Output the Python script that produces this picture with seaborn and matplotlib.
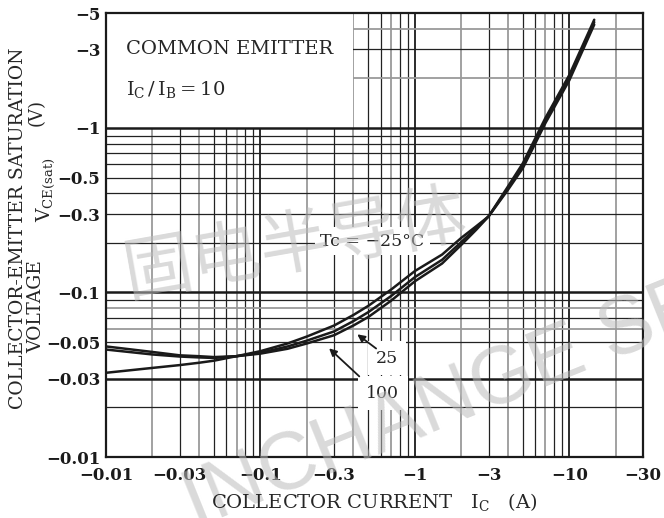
import numpy as np
import pandas as pd
import matplotlib
matplotlib.use('Agg')
import matplotlib.pyplot as plt
import seaborn as sns
from matplotlib.patches import Rectangle
from matplotlib.ticker import NullLocator

# collector current Ic (A), plotted as magnitude, labelled negative (PNP)
ic = [0.01, 0.02, 0.03, 0.04, 0.05, 0.07, 0.1, 0.15, 0.2, 0.3, 0.4, 0.5, 0.7, 1, 1.5, 2, 2.5, 3,
      4, 5, 6, 7, 10, 14.5]
# VCE(sat) (V) for each case temperature
vce_m25 = [0.0325, 0.0348, 0.0362, 0.0374, 0.0385, 0.041, 0.044, 0.049, 0.054, 0.063, 0.073, 0.083,
           0.104, 0.135, 0.17, 0.215, 0.253, 0.29, 0.42, 0.57, 0.8, 1.07, 1.95, 4.25]
vce_25 = [0.045, 0.042, 0.0408, 0.0403, 0.040, 0.041, 0.043, 0.047, 0.051, 0.058, 0.067, 0.076,
          0.095, 0.124, 0.158, 0.203, 0.247, 0.29, 0.43, 0.59, 0.83, 1.11, 2.02, 4.4]
vce_100 = [0.047, 0.0435, 0.0415, 0.041, 0.0405, 0.041, 0.0425, 0.0455, 0.049, 0.055, 0.063, 0.071,
           0.089, 0.117, 0.15, 0.195, 0.241, 0.29, 0.44, 0.61, 0.86, 1.15, 2.1, 4.55]
temps = ['-25', '25', '100']

xticks = [0.01, 0.03, 0.1, 0.3, 1, 3, 10, 30]
xlabels = ['\u22120.01', '\u22120.03', '\u22120.1', '\u22120.3', '\u22121', '\u22123', '\u221210', '\u221230']
yticks = [0.01, 0.03, 0.05, 0.1, 0.3, 0.5, 1, 3, 5]
ylabels = ['\u22120.01', '\u22120.03', '\u22120.05', '\u22120.1', '\u22120.3', '\u22120.5', '\u22121', '\u22123', '\u22125']

df = pd.DataFrame({
    'Ic': ic * 3,
    'Vce': vce_m25 + vce_25 + vce_100,
    'Tc': [t for t in temps for _ in ic],
})

sns.set_theme(style='white')
plt.rcParams['font.family'] = ['DejaVu Serif']
plt.rcParams['mathtext.fontset'] = 'dejavuserif'

fig = plt.figure(figsize=(6.64, 5.18), dpi=100)
ax = fig.add_axes([106 / 664, 1 - 457 / 518, (643 - 106) / 664, (457 - 13) / 518])
ax.set_xscale('log')
ax.set_yscale('log')
ax.set_xlim(0.01, 30)
ax.set_ylim(0.01, 5)

# grid: decade lines black, the rest a mix of black and grey like the scan
grey = '#9a9a9a'
for dec in [0.01, 0.1, 1, 10]:
    for m in range(1, 10):
        v = dec * m
        if v >= 30:
            continue
        if m == 1:
            ax.axvline(v, color='k', lw=1.3, zorder=1)
        elif m in (2, 4, 7):
            ax.axvline(v, color=grey, lw=1.3, zorder=1)
        else:
            ax.axvline(v, color='#222222', lw=0.9, zorder=1)

hlines = [0.02, 0.03, 0.05, 0.06, 0.07, 0.08, 0.09, 0.1, 0.2, 0.3, 0.4, 0.5, 0.6, 0.7, 0.8, 0.9, 1, 2, 3, 4]
for v in hlines:
    if v in (0.03, 0.1, 1):
        ax.axhline(v, color='k', lw=1.8, zorder=1.6)
    elif v in (0.06, 0.08, 2, 4):
        ax.axhline(v, color=grey, lw=1.3, zorder=1)
    else:
        ax.axhline(v, color='#222222', lw=0.9, zorder=1)

# blank box for the conditions text
ax.add_patch(Rectangle((0.01, 1), 0.39, 4.0, facecolor='white', edgecolor='none', zorder=1.5))

sns.lineplot(data=df, x='Ic', y='Vce', hue='Tc', palette=['k', 'k', 'k'], legend=False,
             linewidth=1.8, sort=False, ax=ax, zorder=3)

ax.set_xticks(xticks)
ax.set_xticklabels(xlabels)
ax.set_yticks(yticks)
ax.set_yticklabels(ylabels)
ax.xaxis.set_minor_locator(NullLocator())
ax.yaxis.set_minor_locator(NullLocator())
ax.tick_params(length=0, labelsize=12, colors='k')
ax.tick_params(axis='x', pad=7)
ax.tick_params(axis='y', pad=4)
for lab in ax.get_xticklabels() + ax.get_yticklabels():
    lab.set_fontweight('bold')
for s in ax.spines.values():
    s.set_color('k')
    s.set_linewidth(1.6)
ax.set_xlabel('')
ax.set_ylabel('')

# annotations
box = dict(facecolor='white', edgecolor='none', pad=4)
ax.text(0.53, 0.205, 'Tc = \u221225\u00b0C', fontsize=12.5, ha='center', va='center', bbox=box, zorder=4)
ax.text(0.66, 0.0398, '25', fontsize=12.5, ha='center', va='center',
        bbox=dict(facecolor='white', edgecolor='none', pad=6), zorder=4)
ax.text(0.62, 0.0244, '100', fontsize=12.5, ha='center', va='center',
        bbox=dict(facecolor='white', edgecolor='none', pad=6), zorder=4)
ax.annotate('', xy=(0.41, 0.057), xytext=(0.58, 0.0446),
            arrowprops=dict(arrowstyle='-|>', color='k', lw=1.3, mutation_scale=11), zorder=5)
ax.annotate('', xy=(0.27, 0.047), xytext=(0.45, 0.0301),
            arrowprops=dict(arrowstyle='-|>', color='k', lw=1.3, mutation_scale=11), zorder=5)

fig.text(126 / 664, 1 - 49 / 518, 'COMMON EMITTER', fontsize=14, ha='left', va='center')
fig.text(126 / 664, 1 - 89 / 518, r'$\mathregular{I_C\,/\,I_B = 10}$', fontsize=14, ha='left', va='center')

# axis titles
fig.text(374 / 664, 1 - 502 / 518, r'COLLECTOR CURRENT   $\mathregular{I_C}$   (A)', fontsize=14,
         ha='center', va='center')
fig.text(18 / 664, 1 - 228 / 518, 'COLLECTOR-EMITTER SATURATION', fontsize=13.5, rotation=90,
         ha='center', va='center')
fig.text(36 / 664, 1 - 307 / 518, 'VOLTAGE', fontsize=13.5, rotation=90, ha='center', va='center')
fig.text(37 / 664, 1 - 112 / 518, '(V)', fontsize=13, rotation=90, ha='center', va='center')
fig.text(46 / 664, 1 - 190 / 518, r'$\mathregular{V_{CE(sat)}}$', fontsize=13.5, rotation=90,
         ha='center', va='center')

# faint watermarks from the source sheet
fig.text(295 / 664, 1 - 245 / 518, '固电半导体', fontsize=50, rotation=10, color='#bbbbbb', alpha=0.55,
         ha='center', va='center', family=['Noto Sans CJK SC', 'DejaVu Sans'], zorder=0.5)
fig.text(196 / 664, 1 - 528 / 518, 'INCHANGE SEMICONDUCTOR', fontsize=58, rotation=22, color='#bbbbbb',
         alpha=0.55, ha='left', va='baseline', rotation_mode='anchor', family=['Liberation Sans'],
         zorder=0.5)

fig.savefig('out.png', dpi=100)
